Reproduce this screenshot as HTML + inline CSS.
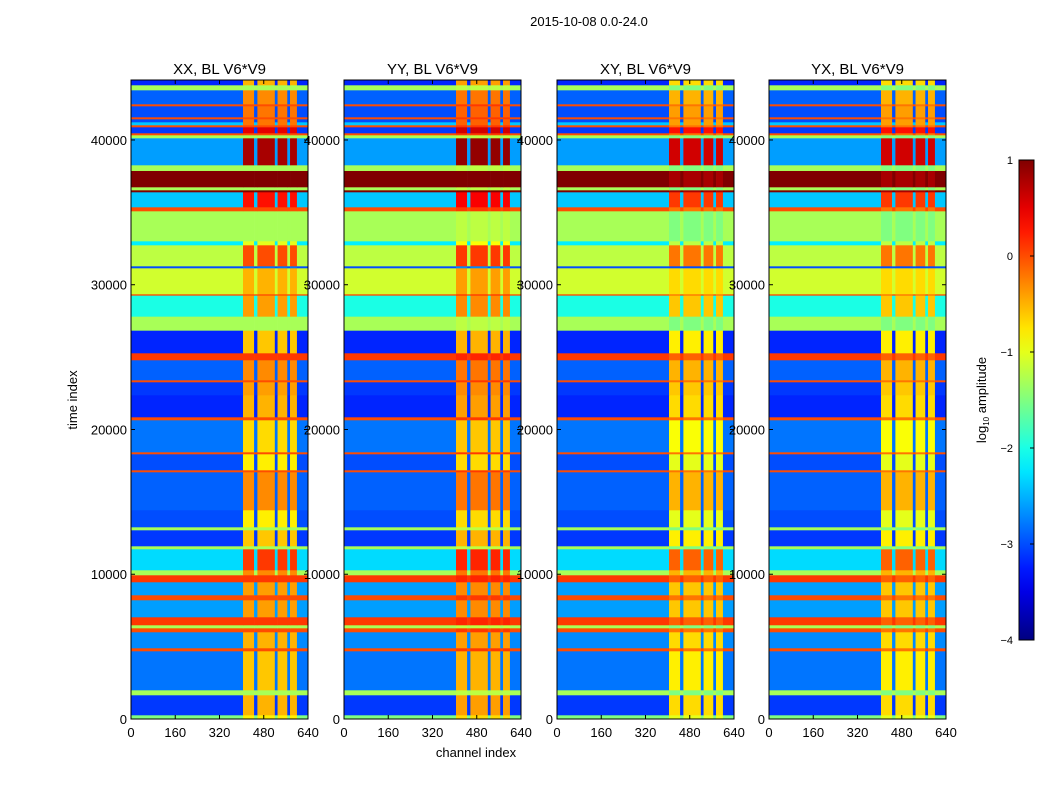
<!DOCTYPE html>
<html><head><meta charset="utf-8"><style>
body{margin:0;background:#fff;width:1050px;height:800px;overflow:hidden}
svg text{font-family:"Liberation Sans",sans-serif;fill:#000}
</style></head><body>
<svg id="fig" width="1050" height="800" viewBox="0 0 1050 800">
<text x="589" y="26" font-size="13" text-anchor="middle">2015-10-08 0.0-24.0</text>
<text transform="translate(77,400) rotate(-90)" font-size="13" text-anchor="middle">time index</text>
<text x="476" y="757" font-size="13" text-anchor="middle">channel index</text>
<g id="panels"></g>
<g id="cbar"></g>
</svg>
<script>
// time-row bands (start of each band, in time index), background value, RFI value (log10 amplitude)
const rowStart = [0,276,1658,2003,4697,4905,6010,6286,6494,7046,8220,8566,9464,9948,10293,11743,11951,13056,13263,14438,17063,17201,18306,18444,20655,20862,22382,23280,23418,24800,25283,26847,27814,29265,29359,31155,31293,32744,33020,35092,35369,36405,36543,36750,37879,38270,40136,40343,40481,40895,41034,41241,41448,41586,42346,42484,43451,43797];
const bgVal = [-1.5,-3.1,-1.3,-2.8,0,-2.7,0,-1.3,0.1,-2.6,0,-2.6,0.1,-1.3,-2.3,-1.3,-3.1,-1.3,-3.0,-2.9,0,-3.0,0,-2.8,0,-3.2,-3.1,0,-2.9,0.1,-3.2,-1.3,-2.0,0,-1.1,-3.0,-1.2,-2.2,-1.3,0,-2.4,1,-1.3,1,-1.3,-2.6,-1.3,0,-3.1,0,-2.4,-3.0,0,-3.0,0,-2.9,-1.3,-3.2];
const rfiVal = [-0.8,-0.5,-1.3,-0.6,0,-0.5,0,-1.3,0.1,-0.4,0,-0.4,0.1,-0.3,0.1,-1.3,-0.6,-1.3,-0.8,-0.3,0,-0.8,0,-0.7,0,-0.5,-0.4,0,-0.3,0.1,-0.6,-1.3,-0.4,0,-0.5,-2.8,0,-1.0,-1.3,0,0.3,1,-1.3,1,-1.3,0.8,-1.3,0,0.5,0,-0.2,-0.2,0,-0.2,0,-0.3,-1.3,-0.5];
const tMax = 44143;
// channel column bands: start channel and type (0 = background, 1 = RFI)
const colStart = [0,405,445,457,520,530,565,575,600];
const colType = [0,1,0,1,0,1,0,1,0];
const chMax = 640;
const titles = ["XX, BL V6*V9","YY, BL V6*V9","XY, BL V6*V9","YX, BL V6*V9"];
const rfiShift = [0,0.1,-0.2,-0.2];
const xTicks = [0,160,320,480,640];
const yTicks = [0,10000,20000,30000,40000];
const cbTicks = [1,0,-1,-2,-3,-4];
const vmin=-4, vmax=1;

const panelX=[131,344,557,769], panelW=177, plotTop=80, plotBottom=719;
const NS="http://www.w3.org/2000/svg";
function el(t,a,p){const e=document.createElementNS(NS,t);for(const k in a)e.setAttribute(k,a[k]);p.appendChild(e);return e;}
function jet(v){let x=(v-vmin)/(vmax-vmin);x=Math.max(0,Math.min(1,x));
 const f=c=>Math.max(0,Math.min(1,1.5-Math.abs(4*x-c)));
 return `rgb(${Math.round(255*f(3))},${Math.round(255*f(2))},${Math.round(255*f(1))})`;}
const yS=t=>plotBottom-(t/tMax)*(plotBottom-plotTop);
const panels=document.getElementById('panels');
titles.forEach((ti,p)=>{
 const x0=panelX[p]; const xS=c=>x0+c/chMax*panelW;
 const g=el('g',{},panels);
 
 
 for(let r=0;r<rowStart.length;r++){
  const t0=rowStart[r], t1=r+1<rowStart.length?rowStart[r+1]:tMax;
  for(let c=0;c<colStart.length;c++){
   const c0=colStart[c], c1=c+1<colStart.length?colStart[c+1]:chMax;
   const v=colType[c]?rfiVal[r]+rfiShift[p]:bgVal[r];
   const y1=yS(t1), y0=yS(t0);
   const rc=el('rect',{x:xS(c0),y:y1,width:xS(c1)-xS(c0)+0.3,height:y0-y1+0.3,fill:jet(v)},g);
   
   
  }
 }
 el('rect',{x:x0,y:plotTop,width:panelW,height:plotBottom-plotTop,fill:'none',stroke:'#000','stroke-width':1},g);
 const tt=el('text',{x:x0+panelW/2,y:74,'font-size':15,'text-anchor':'middle'},g);tt.textContent=ti;
 
 
 xTicks.forEach(v=>{const x=xS(v);
  el('line',{x1:x,x2:x,y1:plotBottom,y2:plotBottom-4,stroke:'#000'},g);
  el('line',{x1:x,x2:x,y1:plotTop,y2:plotTop+4,stroke:'#000'},g);
  const tx=el('text',{x:x,y:737,'font-size':13,'text-anchor':'middle'},g);tx.textContent=v;
  
  });
 yTicks.forEach(v=>{const y=yS(v);
  el('line',{x1:x0,x2:x0+4,y1:y,y2:y,stroke:'#000'},g);
  el('line',{x1:x0+panelW,x2:x0+panelW-4,y1:y,y2:y,stroke:'#000'},g);
  const ty=el('text',{x:x0-4,y:y+5,'font-size':13,'text-anchor':'end'},g);ty.textContent=v;
  
  });
});
const cb=document.getElementById('cbar');const cbT=160,cbB=640,cbX=1019,cbW=15;
const defs=el('defs',{},cb);const lg=el('linearGradient',{id:'jg',x1:0,y1:1,x2:0,y2:0},defs);
for(let i=0;i<=20;i++){el('stop',{offset:i/20,'stop-color':jet(vmin+(vmax-vmin)*i/20)},lg);}
el('rect',{x:cbX,y:cbT,width:cbW,height:cbB-cbT,fill:'url(#jg)',stroke:'#000'},cb);
cbTicks.forEach(v=>{const y=cbB-(v-vmin)/(vmax-vmin)*(cbB-cbT);
 el('line',{x1:cbX+cbW-4,x2:cbX+cbW,y1:y,y2:y,stroke:'#000'},cb);
 const t=el('text',{x:1013,y:y+4,'font-size':11,'text-anchor':'end'},cb);t.textContent=(v<0?'\u2212'+(-v):v);
 
 });
const lab=el('text',{transform:'translate(986,400) rotate(-90)','font-size':13,'text-anchor':'middle'},cb);
lab.innerHTML='log<tspan font-size="8" dy="3">10</tspan><tspan dy="-3"> amplitude</tspan>';


</script>
</body></html>
